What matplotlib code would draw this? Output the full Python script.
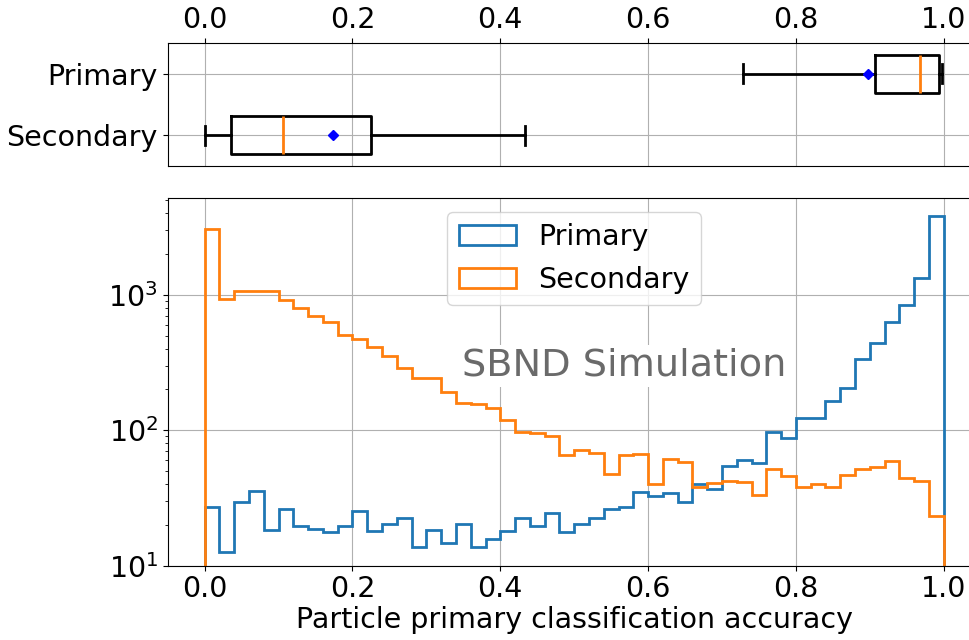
import numpy as np
import matplotlib
matplotlib.use("Agg")
import matplotlib.pyplot as plt

# Histogram binning: 50 equal bins over the accuracy range
bin_edges = np.linspace(0.0, 1.0, 51)

# Per-bin particle counts
primary_counts = [
    27.3, 12.7, 29.7, 35.4, 18.5, 26.4, 19.5, 18.6, 17.7, 19.5,
    25.3, 17.9, 20.4, 22.4, 13.8, 18.5, 14.6, 20.4, 13.8, 15.7,
    18.0, 22.4, 19.5, 24.5, 17.8, 20.2, 22.4, 26.1, 27.3, 35.2,
    32.5, 34.6, 29.5, 40.4, 36.6, 54.2, 60.4, 57.1, 97.8, 88.3,
    122.7, 122.7, 163, 204, 335, 440, 625, 844, 1328, 3810,
]
secondary_counts = [
    3076, 929, 1070, 1070, 1070, 914, 792, 700, 625, 504,
    470, 408, 354, 290, 241, 241, 192, 158, 156, 145,
    119, 97, 96, 91, 66, 71.6, 67.6, 47.9, 65.3, 66.5,
    40.4, 61.1, 58.7, 37.9, 40.6, 42.2, 41.5, 33.1, 52.1, 45.7,
    38.1, 39.9, 38.1, 46.5, 52.1, 53.6, 59.7, 44.6, 42.0, 23.3,
]

# Box-plot summary statistics (whiskers, quartiles, median, mean)
box_labels = ["Primary", "Secondary"]
box_whislo = [0.729, 0.0]
box_q1 = [0.907, 0.035]
box_median = [0.968, 0.106]
box_mean = [0.898, 0.173]
box_q3 = [0.993, 0.225]
box_whishi = [0.998, 0.433]

FS = 20.5
plt.rcParams["font.family"] = ["DejaVu Sans"]
plt.rcParams["font.size"] = FS

W, H = 969, 640
fig = plt.figure(figsize=(W / 100, H / 100), dpi=100)

left = 167.7 / W
width = 813.0 / W
ax_box = fig.add_axes([left, 1 - 166.0 / H, width, (166.0 - 43.3) / H])
ax_hist = fig.add_axes([left, 1 - 565.7 / H, width, (565.7 - 197.7) / H],
                       sharex=ax_box)

# --- box plot ---
stats = []
for i, lab in enumerate(box_labels):
    stats.append(dict(label=lab, whislo=box_whislo[i], q1=box_q1[i],
                      med=box_median[i], q3=box_q3[i], whishi=box_whishi[i],
                      mean=box_mean[i], fliers=[]))
ax_box.bxp(stats, positions=[1, 2], widths=0.62, vert=False,
           showmeans=True, showfliers=False,
           boxprops=dict(color="black", linewidth=2),
           whiskerprops=dict(color="black", linewidth=2),
           capprops=dict(color="black", linewidth=2),
           medianprops=dict(color="#ff7f0e", linewidth=2),
           meanprops=dict(marker="D", markerfacecolor="blue",
                          markeredgecolor="blue", markersize=5.5))
ax_box.set_ylim(2.5, 0.5)
ax_box.xaxis.tick_top()
ax_box.tick_params(axis="x", labeltop=True, labelbottom=False)
ax_box.grid(True, color="#b0b0b0", linewidth=0.8)
ax_box.set_axisbelow(True)

# --- histograms ---
ax_hist.hist(bin_edges[:-1], bins=bin_edges, weights=primary_counts,
             histtype="step", linewidth=2, color="#1f77b4", label="Primary")
ax_hist.hist(bin_edges[:-1], bins=bin_edges, weights=secondary_counts,
             histtype="step", linewidth=2, color="#ff7f0e", label="Secondary")
ax_hist.set_yscale("log")
ax_hist.set_ylim(10, 5200)
ax_hist.set_xlim(-0.05, 1.05)
ax_hist.set_xticks([0.0, 0.2, 0.4, 0.6, 0.8, 1.0])
ax_hist.tick_params(axis="x", labelbottom=True)
ax_hist.grid(True, color="#b0b0b0", linewidth=0.8)
ax_hist.set_axisbelow(True)
ax_hist.set_xlabel("Particle primary classification accuracy", labelpad=2)
ax_hist.legend(loc="upper center", bbox_to_anchor=(0.5, 1.0))
ax_hist.text(0.561, 0.543, "SBND Simulation", transform=ax_hist.transAxes,
             ha="center", va="center", fontsize=27.5, color="#6a6a6a",
             bbox=dict(facecolor="white", edgecolor="none", pad=2))

fig.savefig("out.png", dpi=100)
